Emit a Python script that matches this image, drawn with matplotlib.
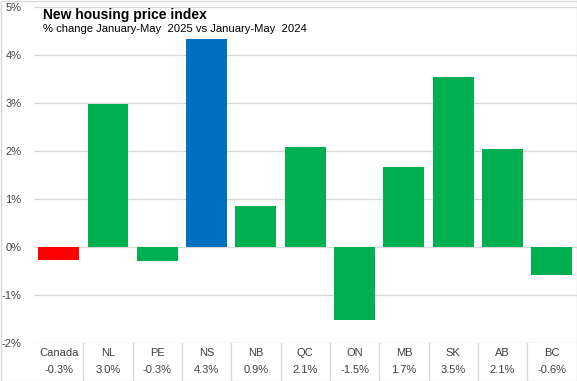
import matplotlib
matplotlib.use("Agg")
import matplotlib.pyplot as plt
from matplotlib import font_manager
from matplotlib.patches import Rectangle

regions = ["Canada", "NL", "PE", "NS", "NB", "QC", "ON", "MB", "SK", "AB", "BC"]
changes = [-0.27, 2.98, -0.30, 4.34, 0.85, 2.08, -1.53, 1.67, 3.55, 2.04, -0.58]
value_labels = ["-0.3%", "3.0%", "-0.3%", "4.3%", "0.9%", "2.1%", "-1.5%", "1.7%", "3.5%", "2.1%", "-0.6%"]
y_ticks = [-2, -1, 0, 1, 2, 3, 4, 5]

GREEN, RED, BLUE, GRID, TXT = "#00B050", "#FF0000", "#0070C0", "#D9D9D9", "#404040"
special = {"Canada": RED, "NS": BLUE}
bar_colors = [special.get(r, GREEN) for r in regions]

names = {f.name for f in font_manager.fontManager.ttflist}
FONT = "Liberation Sans Narrow" if "Liberation Sans Narrow" in names else "Liberation Sans"
plt.rcParams["font.family"] = [FONT, "DejaVu Sans"]

W, H = 577, 381
fig = plt.figure(figsize=(W / 100, H / 100), dpi=100)


def px(x0, y0, x1, y1):
    return [x0 / W, 1 - y1 / H, (x1 - x0) / W, (y1 - y0) / H]


ax = fig.add_axes(px(34, 7.3, 576.5, 343))
x = list(range(len(regions)))
ax.bar(x, changes, width=0.83, color=bar_colors, zorder=3)
ax.set_xlim(-0.5, len(regions) - 0.5)
ax.set_ylim(-2, 5)
ax.set_yticks(y_ticks)
ax.set_yticklabels([f"{v}%" for v in y_ticks], fontsize=8, color=TXT)
ax.set_xticks([])
ax.tick_params(axis="y", length=0, pad=9)
ax.yaxis.grid(True, color=GRID, lw=1, zorder=0)
for s in ax.spines.values():
    s.set_visible(False)

# data table under the axis
tab = fig.add_axes(px(34, 343, 576.5, 380.5))
tab.set_xlim(-0.5, len(regions) - 0.5)
tab.set_ylim(0, 1)
tab.axis("off")
for i, (r, v) in enumerate(zip(regions, value_labels)):
    tab.text(i, 0.74, r, ha="center", va="center", fontsize=8, color=TXT)
    tab.text(i, 0.29, v, ha="center", va="center", fontsize=8, color=TXT)
    if i > 0:
        tab.axvline(i - 0.5, color=GRID, lw=1)

fig.text(43 / W, 1 - 19.5 / H, "New housing price index", fontsize=10,
         fontweight="bold", color="black", va="baseline")
fig.text(43 / W, 1 - 32 / H, "% change January-May  2025 vs January-May  2024",
         fontsize=8.1, color="black", va="baseline")

fig.patches.append(Rectangle((0.5 / W, 0.5 / H), 1 - 1 / W, 1 - 1 / H, transform=fig.transFigure,
                             fill=False, ec=GRID, lw=1))
fig.savefig("out.png", dpi=100)
